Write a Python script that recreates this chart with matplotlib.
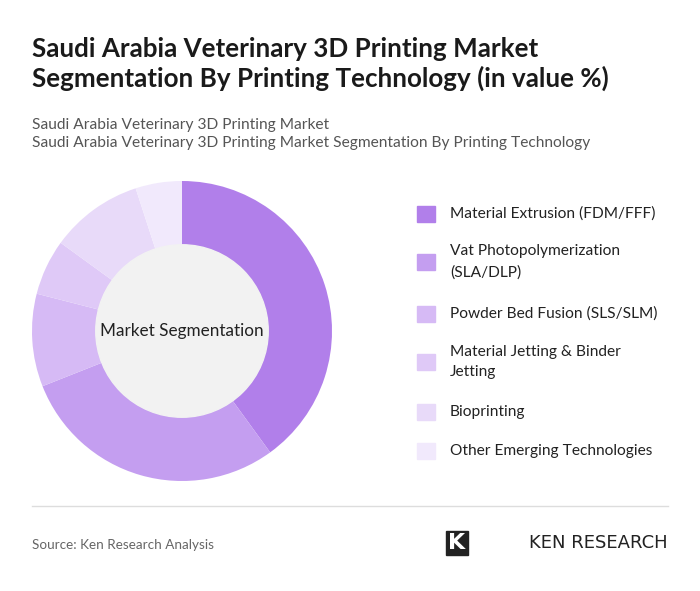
import matplotlib.pyplot as plt
from matplotlib.patches import Circle, Rectangle
from matplotlib.lines import Line2D

labels = ["Material Extrusion (FDM/FFF)", "Vat Photopolymerization\n(SLA/DLP)", "Powder Bed Fusion (SLS/SLM)",
          "Material Jetting & Binder\nJetting", "Bioprinting", "Other Emerging Technologies"]
values = [40, 29, 10, 6, 10, 5]
colors = ["#b17fea", "#c49ef0", "#d6baf5", "#dfc9f7", "#e8daf9", "#f1e9fc"]

fig = plt.figure(figsize=(7, 5.91), dpi=100)
fig.patch.set_facecolor("white")
W, H = 700, 591
def fx(x): return x / W
def fy(y): return 1 - y / H

fig.text(fx(32), fy(64), "Saudi Arabia Veterinary 3D Printing Market\nSegmentation By Printing Technology (in value %)",
         fontsize=18.7, fontweight="bold", color="#1a1a1a", va="center", ha="left", family="Lato", linespacing=1.2)
fig.text(fx(32), fy(134), "Saudi Arabia Veterinary 3D Printing Market\nSaudi Arabia Veterinary 3D Printing Market Segmentation By Printing Technology",
         fontsize=11.2, color="#555555", va="center", ha="left", family="Lato", linespacing=1.45)

ax = fig.add_axes([fx(32), fy(481), 300/W, 300/H])
ax.pie(values, colors=colors, startangle=90, counterclock=False, radius=1,
       wedgeprops=dict(width=0.43, edgecolor="none"))
ax.add_patch(Circle((0, 0), 0.575, color="#f2f2f2", zorder=5))
ax.text(0, 0, "Market Segmentation", ha="center", va="center", fontsize=12.3, color="#222222", zorder=6, family="Lato")
ax.set_xlim(-1, 1); ax.set_ylim(-1, 1); ax.set_aspect("equal"); ax.axis("off")

ys = [214, 262, 314, 362, 412, 451]
for lab, c, y in zip(labels, colors, ys):
    fig.patches.append(Rectangle((fx(417), fy(y + 8)), 18/W, 16/H, transform=fig.transFigure, color=c))
    fig.text(fx(450), fy(y), lab, fontsize=11.2, color="#222222", va="center", ha="left", family="Lato", linespacing=1.6)

fig.add_artist(Line2D([fx(32), fx(668)], [fy(506), fy(506)], color="#dddddd", lw=1))
fig.text(fx(32), fy(545), "Source: Ken Research Analysis", fontsize=9.7, color="#666666", va="center", family="Lato")
fig.text(fx(668), fy(543), "KEN RESEARCH", fontsize=13, color="#222222", va="center", ha="right", family="DejaVu Sans")
fig.text(fx(457), fy(543), "K", fontsize=16, fontweight="bold", color="white", va="center", ha="center",
         bbox=dict(boxstyle="square,pad=0.1", fc="#222222", ec="#222222"))
fig.savefig("out.png", dpi=100, facecolor="white")
